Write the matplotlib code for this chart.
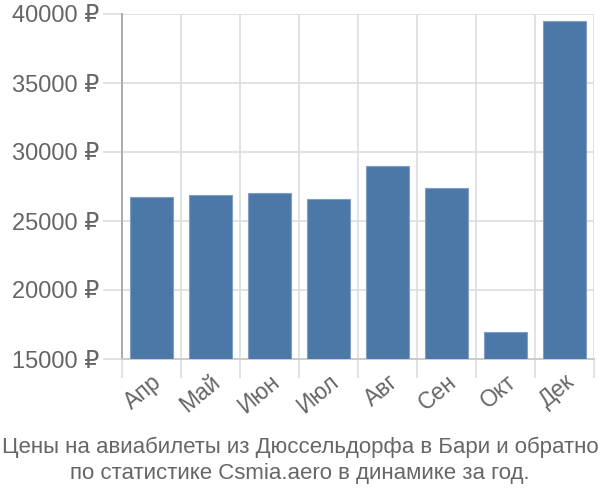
import matplotlib
matplotlib.use("Agg")
import matplotlib.pyplot as plt
import numpy as np

plt.rcParams["font.family"] = ["Liberation Sans", "DejaVu Sans"]

months = ["Апр", "Май", "Июн", "Июл", "Авг", "Сен", "Окт", "Дек"]
prices = [26770, 26890, 27060, 26600, 29020, 27420, 16970, 39470]
yticks = [15000, 20000, 25000, 30000, 35000, 40000]
caption = ("Цены на авиабилеты из Дюссельдорфа в Бари и обратно\n"
           "по статистике Csmia.aero в динамике за год.")

TXT = "#666666"
GRID = "#dddddd"

fig = plt.figure(figsize=(6, 5), dpi=100)
ax = fig.add_axes([0.203, 0.282, 0.787, 0.690])

x = np.arange(len(months))
ax.bar(x, np.array(prices) - 15000, bottom=15000, width=0.72,
       color="#4c78a8", edgecolor="#7f9fc6", linewidth=0.8, zorder=3)

ax.set_xlim(-0.5, len(months) - 0.5)
ax.set_ylim(15000, 40000)

ax.set_yticks(yticks)
ax.set_yticklabels([f"{v} ₽" for v in yticks], color=TXT, fontsize=17)
ax.tick_params(axis="y", length=14, color=GRID, width=1.2, pad=2)

ax.set_xticks(x)
ax.set_xticklabels(months, rotation=40, ha="right", rotation_mode="anchor",
                   color=TXT, fontsize=16.5)
ax.tick_params(axis="x", which="major", length=0, pad=8)
ax.set_xticks(np.arange(-0.5, len(months)), minor=True)
ax.tick_params(axis="x", which="minor", length=14, color=GRID, width=1.2)

ax.grid(True, axis="y", color=GRID, linewidth=1.2, zorder=0)
ax.grid(True, axis="x", which="minor", color=GRID, linewidth=1.2, zorder=0)

for s in ["top", "right"]:
    ax.spines[s].set_visible(False)
ax.spines["left"].set_color("#aaaaaa")
ax.spines["left"].set_linewidth(1.4)
ax.spines["bottom"].set_color("#cccccc")
ax.spines["bottom"].set_linewidth(1.4)

fig.text(0.5, 0.079, caption, ha="center", va="center", color=TXT,
         fontsize=16, linespacing=1.3)

fig.savefig("out.png", dpi=100)
